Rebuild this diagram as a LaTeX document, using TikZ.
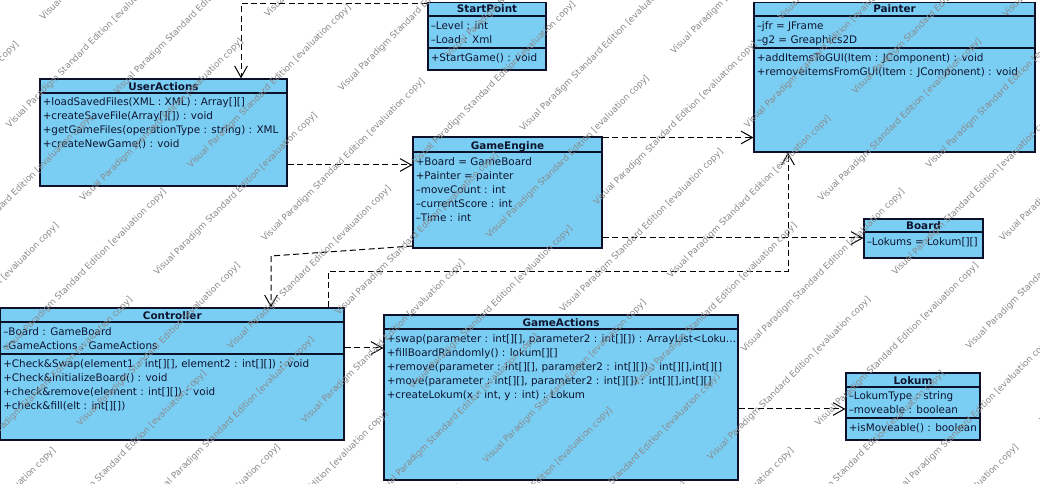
\documentclass[tikz,border=0pt]{standalone}
\usepackage{fontspec}
\setmainfont{DejaVu Sans}
\usetikzlibrary{arrows.meta,fit}
\definecolor{clsfill}{RGB}{122,206,244}
\definecolor{clsline}{RGB}{12,16,40}
\definecolor{clstext}{RGB}{14,20,46}
\definecolor{wmgray}{RGB}{138,138,138}
\begin{document}
\begin{tikzpicture}[x=0.75pt,y=-0.75pt,
  box/.style={draw=clsline, fill=clsfill, line width=0.9pt, inner sep=0pt},
  sepline/.style={draw=clsline, line width=0.9pt},
  head/.style={font=\fontsize{7.8}{9}\selectfont\bfseries, text=clstext, anchor=base, inner sep=0pt},
  member/.style={font=\fontsize{7.8}{9}\selectfont, text=clstext, anchor=base west, inner sep=0pt},
  dep/.style={draw=black, line width=0.75pt, dash pattern=on 4.5pt off 2.6pt,
    -{Straight Barb[length=8.5pt,width=9.5pt,line width=0.75pt]}},
  wm/.style={font=\fontsize{6.6}{7}\selectfont, text=wmgray, rotate=45, anchor=base west, inner sep=0pt}]

\useasboundingbox (0,0) rectangle (1040,484);
\fill[white] (0,0) rectangle (1040,484);

% ---------- class boxes ----------
\node[box, fit={(428,2.5) (546,70)}] (sp) {};
\node[box, fit={(40,79) (287,186)}] (ua) {};
\node[box, fit={(413,137) (602,248)}] (ge) {};
\node[box, fit={(754,2.5) (1035,152)}] (pa) {};
\node[box, fit={(864,219) (983,258)}] (bo) {};
\node[box, fit={(0.6,308) (344,440)}] (co) {};
\node[box, fit={(384,315) (738,480)}] (gac) {};
\node[box, fit={(846,373) (980,440)}] (lo) {};

% ---------- dependencies ----------
\coordinate (k1) at (241,3.5);
\draw[dep] (sp.west |- k1) -- (k1) -- (k1 |- ua.north);
\draw[dep] (ua.east |- 0,165) -- (ge.west |- 0,165);
\draw[dep] (ge.east |- 0,137.5) -- (pa.west |- 0,137.5);
\draw[dep] (ge.east |- 0,238) -- (bo.west |- 0,238);
\coordinate (k5) at (271,256);
\draw[dep] (ge.west |- 0,246) -- (k5) -- (k5 |- co.north);
\coordinate (k6a) at (328,271.5);
\coordinate (k6b) at (788,271.5);
\draw[dep] (k6a |- co.north) -- (k6a) -- (k6b) -- (k6b |- pa.south);
\draw[dep] (co.east |- 0,348) -- (gac.west |- 0,348);
\draw[dep] (gac.east |- 0,409) -- (lo.west |- 0,409);

% ---------- StartPoint ----------
\draw[sepline] (sp.west |- 0,16) -- (sp.east |- 0,16);
\draw[sepline] (sp.west |- 0,48) -- (sp.east |- 0,48);
\node[head] (sp-h) at (sp.north |- 0,13) {StartPoint};
\node[member] (sp-1) at (430.5,29.3) {–Level : int};
\node[member] (sp-2) at (430.5,43.3) {–Load : Xml};
\node[member] (sp-3) at (430.5,61.5) {+StartGame() : void};

% ---------- UserActions ----------
\draw[sepline] (ua.west |- 0,93) -- (ua.east |- 0,93);
\node[head] (ua-h) at (ua.north |- 0,90.5) {UserActions};
\node[member] (ua-1) at (42.5,105.8) {+loadSavedFiles(XML : XML) : Array[][]};
\node[member] (ua-2) at (42.5,119.8) {+createSaveFile(Array[][]) : void};
\node[member] (ua-3) at (42.5,133.8) {+getGameFiles(operationType : string) : XML};
\node[member] (ua-4) at (42.5,147.8) {+createNewGame() : void};

% ---------- GameEngine ----------
\draw[sepline] (ge.west |- 0,152) -- (ge.east |- 0,152);
\node[head] (ge-h) at (ge.north |- 0,149.5) {GameEngine};
\node[member] (ge-1) at (415.5,165.3) {+Board = GameBoard};
\node[member] (ge-2) at (415.5,179.3) {+Painter = painter};
\node[member] (ge-3) at (415.5,193.3) {–moveCount : int};
\node[member] (ge-4) at (415.5,207.3) {–currentScore : int};
\node[member] (ge-5) at (415.5,221.3) {–Time : int};

% ---------- Painter ----------
\draw[sepline] (pa.west |- 0,16) -- (pa.east |- 0,16);
\draw[sepline] (pa.west |- 0,48) -- (pa.east |- 0,48);
\node[head] (pa-h) at (pa.north |- 0,13) {Painter};
\node[member] (pa-1) at (756.5,29.3) {–jfr = JFrame};
\node[member] (pa-2) at (756.5,43.3) {–g2 = Greaphics2D};
\node[member] (pa-3) at (756.5,61.5) {+addItemsToGUI(Item : JComponent) : void};
\node[member] (pa-4) at (756.5,75.5) {+removeitemsFromGUI(Item : JComponent) : void};

% ---------- Board ----------
\draw[sepline] (bo.west |- 0,232) -- (bo.east |- 0,232);
\node[head] (bo-h) at (bo.north |- 0,229.5) {Board};
\node[member] (bo-1) at (866.5,245.3) {–Lokums = Lokum[][]};

% ---------- Controller ----------
\draw[sepline] (co.west |- 0,322) -- (co.east |- 0,322);
\draw[sepline] (co.west |- 0,354) -- (co.east |- 0,354);
\node[head] (co-h) at (co.north |- 0,319.5) {Controller};
\node[member] (co-1) at (3,335.3) {–Board : GameBoard};
\node[member] (co-2) at (3,349.3) {–GameActions : GameActions};
\node[member] (co-3) at (3,367.5) {+Check\&Swap(element1 : int[][], element2 : int[][]) : void};
\node[member] (co-4) at (3,381.5) {+Check\&InitializeBoard() : void};
\node[member] (co-5) at (3,395.5) {+check\&remove(element : int[][]) : void};
\node[member] (co-6) at (3,409.5) {+check\&fill(elt : int[][])};

% ---------- GameActions ----------
\draw[sepline] (gac.west |- 0,329) -- (gac.east |- 0,329);
\node[head] (gac-h) at (gac.north |- 0,326.5) {GameActions};
\node[member] (gac-1) at (386.5,342.3) {+swap(parameter : int[][], parameter2 : int[][]) : ArrayList<Loku…};
\node[member] (gac-2) at (386.5,356.3) {+fillBoardRandomly() : lokum[][]};
\node[member] (gac-3) at (386.5,370.3) {+remove(parameter : int[][], parameter2 : int[][]) : int[][],int[][]};
\node[member] (gac-4) at (386.5,384.3) {+move(parameter : int[][], parameter2 : int[][]) : int[][],int[][]};
\node[member] (gac-5) at (386.5,398.3) {+createLokum(x : int, y : int) : Lokum};

% ---------- Lokum ----------
\draw[sepline] (lo.west |- 0,387) -- (lo.east |- 0,387);
\draw[sepline] (lo.west |- 0,418) -- (lo.east |- 0,418);
\node[head] (lo-h) at (lo.north |- 0,384.5) {Lokum};
\node[member] (lo-1) at (848.5,400) {–LokumType : string};
\node[member] (lo-2) at (848.5,414) {–moveable : boolean};
\node[member] (lo-3) at (848.5,431.5) {+isMoveable() : boolean};

% ---------- tiled edition stamp ----------
\begin{scope}
\clip (0,0) rectangle (1040,484);
\foreach \k in {-11,...,12}{
  \foreach \m in {-3,...,3}{
    \pgfmathsetmacro\wt{515+52.2*\k}
    \pgfmathsetmacro\ws{177+100*mod(abs(\k),2)+261*\m}
    \node[wm] (wm-\k-\m) at ({(\ws+\wt)/sqrt(2)},{(\wt-\ws)/sqrt(2)})
      {Visual Paradigm Standard Edition [evaluation copy]};
  }
}
\end{scope}
\end{tikzpicture}
\end{document}
